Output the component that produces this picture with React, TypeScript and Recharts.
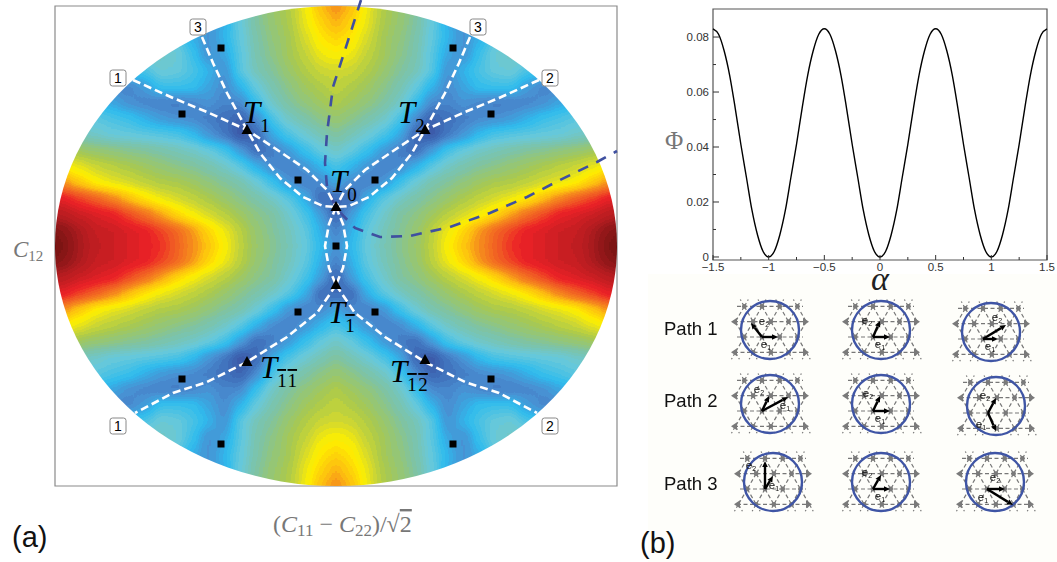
import React from "react";
import { ScatterChart, Scatter, XAxis, YAxis, ReferenceArea, LineChart, Line } from "recharts";

// ---- panel (a): surface levels (top-left quadrant; 0 = deep blue, 100 = dark red)
const gridDx = [0,16,32,48,64,80,96,112,128,144,160,176,192,208,224,240,256,272,288,304];
const gridDy = [0,16,32,48,64,80,96,112,128,144,160,176,192,208,224,240,256];
const levels0 = [12,20,28,33,38,42,48,55,61,67,73,79,81,83,85,87,91,97,100,100];
const levels16 = [9,18,27,32,37,41,47,53,59,66,72,77,81,83,85,86,90,95,98,98];
const levels32 = [4,15,24,30,36,39,43,47,50,54,59,65,71,76,81,83,85,88,90,92];
const levels48 = [6,6,18,26,31,35,38,42,45,48,50,53,57,62,68,73,77,81,83,85];
const levels64 = [17,11,9,13,22,29,34,37,40,43,45,46,48,50,52,55,60,66,72,75];
const levels80 = [24,19,13,9,11,18,26,31,34,37,39,41,43,45,47,49,52,55,60,64];
const levels96 = [31,27,21,14,9,6,14,23,28,31,33,35,37,38,40,41,43,45,47,49];
const levels112 = [37,33,29,24,17,5,1,8,13,20,24,25,26,27,28,30,32,34,36,38];
const levels128 = [42,39,35,31,24,11,4,7,9,11,12,14,18,22,24,26,28,30,32,34];
const levels144 = [46,43,40,36,31,22,11,10,13,10,9,9,10,12,16,20,22,24,26,28];
const levels160 = [48,46,43,39,34,28,19,11,16,21,22,22,14,10,10,11,12,14,16,18];
const levels176 = [50,49,46,42,37,33,26,12,19,24,28,29,24,22,20,20,20,20,20,20];
const levels192 = [55,53,48,44,39,34,26,16,12,22,29,31,31,30,30,30,30,30,30,30];
const levels208 = [59,56,50,44,40,35,27,19,12,18,26,28,28,28,28,28,28,28,28,28];
const levels224 = [64,59,52,45,41,36,28,18,13,15,20,22,22,22,22,22,22,22,22,22];
const levels240 = [67,62,53,46,42,37,29,19,13,15,20,22,22,22,22,22,22,22,22,22];
const levels256 = [69,64,54,46,42,37,29,19,13,15,20,22,22,22,22,22,22,22,22,22];
const levelRows = [levels0,levels16,levels32,levels48,levels64,levels80,levels96,levels112,levels128,levels144,levels160,levels176,levels192,levels208,levels224,levels240,levels256];

const colorStops: [number, string][] = [[0,"#3a4fa0"],[6,"#3f6cb8"],[12,"#4a8fd2"],[20,"#2fbcee"],[28,"#69c9da"],[36,"#80c3a2"],[45,"#a9c94f"],[50,"#d3d92f"],[55,"#fff000"],[62,"#fdc010"],[68,"#f5821f"],[74,"#f15a24"],[80,"#ec2227"],[90,"#b01c20"],[100,"#6b1210"]];

const squares = [[-115,198],[117,198],[-154,132],[155,132],[-38,66],[39,66],[0,0],[-38,-66],[39,-66],[-154,-133],[155,-133],[-115,-198],[117,-198]];
const triangles = [[0,39],[-89,116],[89,116],[0,-39],[-89,-116],[89,-114]];
const badges = [[-218,168,"1"],[-138,219,"3"],[142,219,"3"],[214,168,"2"],[-218,-180,"1"],[214,-180,"2"]];
const tLabels = [[-93,123,"1",false],[62,123,"2",false],[-6,54,"0",false],[-8,-77,"1",true],[-76,-132,"11",true],[54,-136,"12",true]];

const pathUpperA = [[-203,166],[-163,148],[-129,134],[-89,116],[-63,99],[-29,76],[-9,56],[0,39]];
const pathUpperB = [[-134,209],[-123,183],[-109,153],[-89,116],[-76,93],[-56,68],[-33,49],[-13,40],[0,39]];
const pathLens = [[0,39],[-7,22],[-11,0],[-7,-22],[0,-39]];
const pathLower = [[0,-39],[-19,-67],[-49,-91],[-89,-116],[-129,-136],[-163,-147],[-201,-167]];
const boundary = [[25,246],[9,196],[-3,159],[-9,113],[-11,83],[-9,59],[0,38],[19,18],[44,9],[74,10],[114,19],[154,33],[191,49],[224,66],[261,84],[281,95]];

// ---- panel (b) top: curve
const alphaValues = [-1.5,-1.45,-1.4,-1.35,-1.3,-1.25,-1.2,-1.15,-1.1,-1.05,-1,-0.95,-0.9,-0.85,-0.8,-0.75,-0.7,-0.65,-0.6,-0.55,-0.5,-0.45,-0.4,-0.35,-0.3,-0.25,-0.2,-0.15,-0.1,-0.05,0,0.05,0.1,0.15,0.2,0.25,0.3,0.35,0.4,0.45,0.5,0.55,0.6,0.65,0.7,0.75,0.8,0.85,0.9,0.95,1,1.05,1.1,1.15,1.2,1.25,1.3,1.35,1.4,1.45,1.5];
const phiValues = [0.083,0.081,0.075,0.066,0.054,0.041,0.029,0.017,0.008,0.002,0,0.002,0.008,0.017,0.029,0.041,0.054,0.066,0.075,0.081,0.083,0.081,0.075,0.066,0.054,0.041,0.029,0.017,0.008,0.002,0,0.002,0.008,0.017,0.029,0.041,0.054,0.066,0.075,0.081,0.083,0.081,0.075,0.066,0.054,0.041,0.029,0.017,0.008,0.002,0,0.002,0.008,0.017,0.029,0.041,0.054,0.066,0.075,0.081,0.083];
const alphaTicks = [-1.5,-1.25,-1,-0.75,-0.5,-0.25,0,0.25,0.5,0.75,1,1.25,1.5];
const phiTicks = [0,0.01,0.02,0.03,0.04,0.05,0.06,0.07,0.08];

// ---- panel (b) bottom: lattice diagrams
const panelRows = [
  { x: 770, y: 330, e1: [16,0], e2: [-11,-14], l1: [4,11], l2: [2,-12] },
  { x: 881, y: 330, e1: [17,0], e2: [7,-16], l1: [7,11], l2: [-6,-13] },
  { x: 991, y: 332, e1: [15,0], e2: [23,-14], l1: [7,11], l2: [14,-18] },
  { x: 770, y: 404, e1: [26,-14], e2: [7,-15], l1: [23,-2], l2: [-3,-18] },
  { x: 881, y: 404, e1: [17,0], e2: [7,-15], l1: [7,11], l2: [-5,-14] },
  { x: 996, y: 406, e1: [8,18], e2: [8,-15], l1: [-7,15], l2: [-3,-14] },
  { x: 773, y: 482, e1: [8,-13], e2: [0,-28], l1: [9,0], l2: [-14,-20] },
  { x: 881, y: 482, e1: [17,0], e2: [8,-14], l1: [7,11], l2: [-6,-13] },
  { x: 995, y: 482, e1: [26,16], e2: [18,0], l1: [-4,12], l2: [8,-8] },
];
const pathLabels = [{ x: 664, y: 335, name: "Path 1" }, { x: 664, y: 407, name: "Path 2" }, { x: 664, y: 490, name: "Path 3" }];

// ---- helpers
const hex = (h: string) => [1, 3, 5].map((i) => parseInt(h.slice(i, i + 2), 16) / 255);
const colorAt = (v: number) => {
  for (let i = 1; i < colorStops.length; i++) {
    if (v <= colorStops[i][0]) {
      const [a, ca] = colorStops[i - 1];
      const [b, cb] = colorStops[i];
      const t = (v - a) / (b - a);
      const A = hex(ca), B = hex(cb);
      return A.map((c, k) => c + (B[k] - c) * t);
    }
  }
  return hex(colorStops[colorStops.length - 1][1]);
};
const BANDS = 60;
const bandColors = Array.from({ length: BANDS }, (_, i) => colorAt(((i + 0.5) / BANDS) * 100));
const table = (ch: number) => bandColors.map((c) => c[ch].toFixed(3)).join(" ");

const heatData: any[] = [];
gridDy.forEach((dy, j) => {
  gridDx.forEach((dx, i) => {
    const v = levelRows[j][i];
    const xs = dx === 0 ? [0] : [-dx, dx];
    const ys = dy === 0 ? [0] : [-dy, dy];
    xs.forEach((x) => ys.forEach((y) => heatData.push({ x, y, v })));
  });
});
const toXY = (p: any[]) => ({ x: p[0], y: p[1] });
const mirror = (pts: number[][]) => pts.map((p) => [-p[0], p[1]]);

const HeatCell = (p: any) => {
  const g = Math.round((p.payload.v / 100) * 255);
  return <rect x={p.cx - 8.5} y={p.cy - 8.5} width={17} height={17} fill={`rgb(${g},${g},${g})`} />;
};
const NoDot = () => <g />;
const SquareDot = (p: any) => <rect x={p.cx - 3.5} y={p.cy - 3.5} width={7} height={7} fill="#000" />;
const TriDot = (p: any) => <polygon points={`${p.cx},${p.cy - 6} ${p.cx - 5.5},${p.cy + 4} ${p.cx + 5.5},${p.cy + 4}`} fill="#000" />;
const Badge = (p: any) => (
  <g>
    <rect x={p.cx - 8} y={p.cy - 8} width={16} height={16} rx={2.5} fill="#fff" stroke="#888" strokeWidth={1} />
    <text x={p.cx} y={p.cy + 5} textAnchor="middle" fontFamily="Liberation Sans" fontSize={14} fill="#000">{p.payload.t}</text>
  </g>
);
const TLabel = (p: any) => {
  const t = String(p.payload.t);
  const bar = p.payload.bar;
  return (
    <text x={p.cx} y={p.cy} fontFamily="Liberation Serif" fill="#000">
      <tspan fontStyle="italic" fontSize={31}>T</tspan>
      {t.split("").map((ch, i) => (
        <tspan key={i} fontSize={19} dx={i > 0 ? 1.5 : 0} dy={i === 0 ? 9 : 0} style={bar ? { textDecoration: "overline" } : undefined}>{ch}</tspan>
      ))}
    </text>
  );
};

const AlphaXTick = (p: any) => {
  const v = p.payload.value;
  const major = Math.abs(v * 2 - Math.round(v * 2)) < 1e-6;
  return (
    <g>
      <line x1={p.x} x2={p.x} y1={p.y} y2={p.y - (major ? 5 : 3)} stroke="#333" />
      {major && (
        <text x={p.x} y={p.y + 11} textAnchor="middle" fontFamily="Liberation Sans" fontSize={11.5} fill="#333">
          {String(v).replace("-", "\u2212")}
        </text>
      )}
    </g>
  );
};
const PhiYTick = (p: any) => {
  const v = p.payload.value;
  const major = Math.round(v * 100) % 2 === 0;
  return (
    <g>
      <line x1={p.x} x2={p.x + (major ? 6 : 3)} y1={p.y} y2={p.y} stroke="#333" />
      {major && (
        <text x={p.x - 4} y={p.y + 4} textAnchor="end" fontFamily="Liberation Sans" fontSize={11.5} fill="#333">
          {v === 0 ? "0" : v.toFixed(2)}
        </text>
      )}
    </g>
  );
};

const Arrow = ({ ox, oy, d }: any) => {
  const len = Math.hypot(d[0], d[1]) || 1;
  const ux = d[0] / len, uy = d[1] / len;
  const ex = ox + d[0], ey = oy + d[1];
  const bx = ex - ux * 6, by = ey - uy * 6;
  return (
    <g>
      <line x1={ox} y1={oy} x2={bx} y2={by} stroke="#000" strokeWidth={2.4} />
      <polygon points={`${ex},${ey} ${bx - uy * 2.8},${by + ux * 2.8} ${bx + uy * 2.8},${by - ux * 2.8}`} fill="#000" />
    </g>
  );
};
const E = ({ x, y, n }: any) => (
  <text x={x} y={y} fontFamily="Liberation Sans" fontSize={11.5} fill="#111" textAnchor="middle">
    e<tspan fontSize={7} dy={2}>{n}</tspan>
  </text>
);
const LatticeGlyph = (p: any) => {
  const { cx, cy, payload: d } = p;
  const a = 17.7, h = 15.3;
  const ox = cx - 8, oy = cy + 7;
  const lines: any[] = [];
  const dots: any[] = [];
  const rows = [-2, -1, 0, 1];
  rows.forEach((k) => {
    const y = oy + k * h;
    const odd = k % 2 !== 0;
    const ext = odd ? 36 : 33;
    lines.push(<line key={`h${k}`} x1={cx - ext} x2={cx + ext} y1={y} y2={y} />);
    for (let n = -4; n <= 4; n++) {
      const x = ox + (n + (odd ? 0.5 : 0)) * a;
      if (Math.abs(x - cx) < 33) dots.push(<circle key={`d${k}${n}`} cx={x} cy={y} r={2.4} fill="#7a7a7a" />);
      if (Math.abs(x - cx) < 40) {
        [-0.5, 0.5].forEach((s) => {
          const x2 = x + s * a;
          if (k < 1 && Math.abs(x2 - cx) < 40) lines.push(<line key={`e${k}${n}${s}`} x1={x} y1={y} x2={x2} y2={y + h} />);
          if (k === -2) lines.push(<line key={`u${n}${s}`} x1={x} y1={y} x2={x + s * a * 0.45} y2={y - h * 0.45} />);
          if (k === 1) lines.push(<line key={`v${n}${s}`} x1={x} y1={y} x2={x + s * a * 0.45} y2={y + h * 0.45} />);
        });
      }
    }
  });
  const ends = [-1, 1].flatMap((k) => [-1, 1].map((s) => {
    const y = oy + k * h, x = cx + s * 39;
    return <polygon key={`t${k}${s}`} points={`${x},${y} ${x - s * 6},${y - 4} ${x - s * 6},${y + 4}`} fill="#7a7a7a" />;
  }));
  return (
    <g>
      <g stroke="#777" strokeWidth={1.2} strokeDasharray="4 2.5">{lines}</g>
      {dots}
      {ends}
      <circle cx={cx} cy={cy} r={29} fill="none" stroke="#3f55a5" strokeWidth={2.4} />
      <Arrow ox={ox} oy={oy} d={d.e1} />
      <Arrow ox={ox} oy={oy} d={d.e2} />
      <E x={ox + d.l1[0]} y={oy + d.l1[1]} n="1" />
      <E x={ox + d.l2[0]} y={oy + d.l2[1]} n="2" />
    </g>
  );
};
const PathText = (p: any) => (
  <text x={p.cx} y={p.cy} fontFamily="Liberation Sans" fontSize={18.5} fill="#111">{p.payload.name}</text>
);

const whiteLine = { stroke: "#fff", strokeWidth: 2.6, strokeDasharray: "8 4", fill: "none" };
const whitePaths = [pathUpperA, pathUpperB, mirror(pathUpperA), mirror(pathUpperB), pathLens, mirror(pathLens), pathLower, mirror(pathLower)];
const curveData = alphaValues.map((a, i) => ({ a, phi: phiValues[i] }));
const serifGray = { fontFamily: "Liberation Serif", fill: "#777" };

export default function App() {
  return (
    <div style={{ position: "absolute", left: 0, top: 0, width: 1057, height: 562, overflow: "hidden", background: "#fff" }}>
      <style>{`.heat-layer{filter:url(#heatFilter);clip-path:url(#heatClip);}`}</style>
      <div style={{ position: "absolute", left: 648, top: 274, width: 409, height: 288, background: "#fefefa" }} />
      <div style={{ position: "absolute", left: 0, top: -20 }}>
        <ScatterChart width={1057} height={582} margin={{ left: 32, right: 417, top: 10, bottom: 60 }}>
          <defs>
            <filter id="heatFilter" filterUnits="userSpaceOnUse" x={0} y={0} width={1057} height={582} colorInterpolationFilters="sRGB">
              <feGaussianBlur stdDeviation={6} />
              <feComponentTransfer>
                <feFuncR type="discrete" tableValues={table(0)} />
                <feFuncG type="discrete" tableValues={table(1)} />
                <feFuncB type="discrete" tableValues={table(2)} />
              </feComponentTransfer>
            </filter>
            <clipPath id="heatClip"><ellipse cx={336} cy={266} rx={281} ry={240} /></clipPath>
          </defs>
          <XAxis type="number" dataKey="x" domain={[-304, 304]} hide />
          <YAxis type="number" dataKey="y" domain={[-256, 256]} hide />
          <Scatter className="heat-layer" data={heatData} shape={HeatCell} isAnimationActive={false} />
          <ReferenceArea x1={-281} x2={281} y1={-240} y2={240} fill="none" stroke="#8a8a8a" strokeWidth={1.2} />
          <Scatter data={boundary.map(toXY)} shape={NoDot} line={{ stroke: "#3f50a0", strokeWidth: 2.6, strokeDasharray: "11 9", fill: "none" }} isAnimationActive={false} />
          {whitePaths.map((pts, i) => (
            <Scatter key={i} data={pts.map(toXY)} shape={NoDot} line={whiteLine} isAnimationActive={false} />
          ))}
          <Scatter data={squares.map(toXY)} shape={SquareDot} isAnimationActive={false} />
          <Scatter data={triangles.map(toXY)} shape={TriDot} isAnimationActive={false} />
          <Scatter data={badges.map((b) => ({ x: b[0], y: b[1], t: b[2] }))} shape={Badge} isAnimationActive={false} />
          <Scatter data={tLabels.map((b) => ({ x: b[0], y: b[1], t: b[2], bar: b[3] }))} shape={TLabel} isAnimationActive={false} />
          <text x={13} y={277} {...serifGray} fontSize={23}>
            <tspan fontStyle="italic">C</tspan>
            <tspan fontSize={15} dy={4}>12</tspan>
          </text>
          <text x={273} y={552} {...serifGray} fontSize={24}>
            (<tspan fontStyle="italic">C</tspan><tspan fontSize={17} dy={4}>11</tspan>
            <tspan dy={-4}> − </tspan><tspan fontStyle="italic">C</tspan><tspan fontSize={17} dy={4}>22</tspan>
            <tspan dy={-4}>)/√</tspan><tspan style={{ textDecoration: "overline" }}>2</tspan>
          </text>
          <text x={12} y={567} fontFamily="Liberation Sans" fontSize={29} fill="#111">(a)</text>
          <text x={640} y={573} fontFamily="Liberation Sans" fontSize={29} fill="#111">(b)</text>
        </ScatterChart>
      </div>
      <div style={{ position: "absolute", left: 650, top: 0 }}>
        <LineChart width={407} height={300} data={curveData} margin={{ left: 23, right: 10, top: 9, bottom: 20 }}>
          <XAxis type="number" dataKey="a" domain={[-1.5, 1.5]} ticks={alphaTicks} interval={0} tickSize={0} tickMargin={0} tickLine={false} axisLine={false} tick={AlphaXTick} height={20} />
          <YAxis type="number" domain={[-0.0011, 0.0902]} ticks={phiTicks} interval={0} tickSize={0} tickMargin={0} tickLine={false} axisLine={false} tick={PhiYTick} width={40} />
          <ReferenceArea x1={-1.5} x2={1.5} y1={-0.0011} y2={0.0902} fill="none" stroke="#555" strokeWidth={1.2} />
          <Line dataKey="phi" type="monotone" stroke="#000" strokeWidth={1.4} dot={false} isAnimationActive={false} />
          <text x={15} y={149} fontFamily="Liberation Serif" fontSize={25} fill="#777">Φ</text>
          <text x={221} y={290} fontFamily="Liberation Serif" fontStyle="italic" fontSize={34} fill="#222">α</text>
        </LineChart>
      </div>
      <div style={{ position: "absolute", left: 640, top: 272, filter: "blur(0.35px)" }}>
        <ScatterChart width={417} height={290} margin={{ left: 0, right: 0, top: 0, bottom: 0 }}>
          <XAxis type="number" dataKey="x" domain={[640, 1057]} hide />
          <YAxis type="number" dataKey="y" domain={[272, 562]} reversed hide />
          <Scatter data={panelRows} shape={LatticeGlyph} isAnimationActive={false} />
          <Scatter data={pathLabels} shape={PathText} isAnimationActive={false} />
        </ScatterChart>
      </div>
    </div>
  );
}
